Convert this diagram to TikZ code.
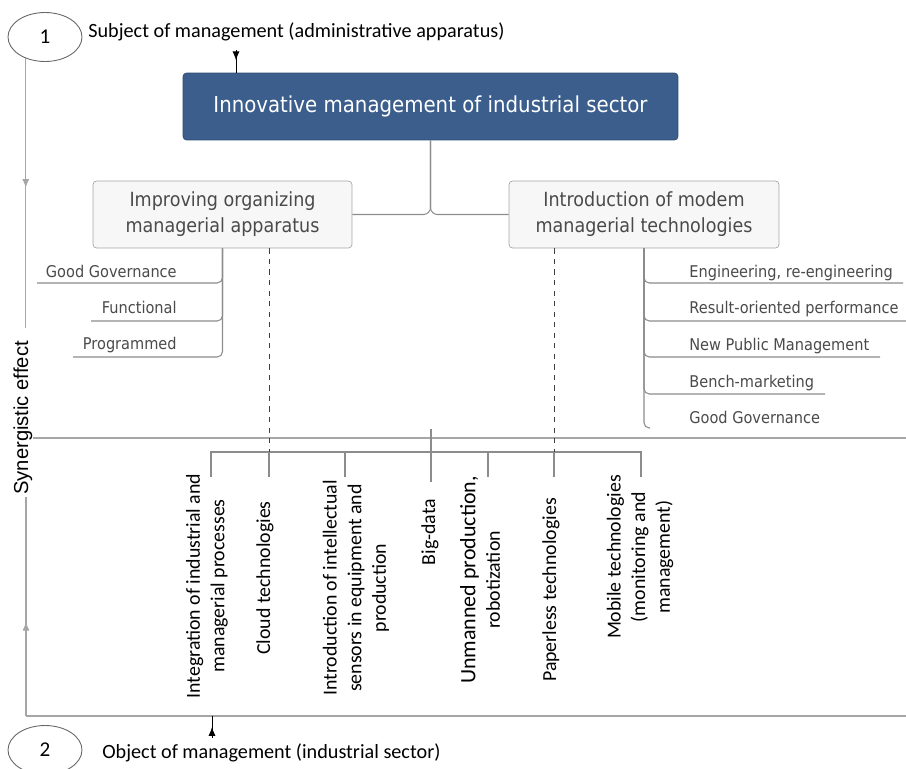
\documentclass[tikz,border=0pt]{standalone}
\usepackage{fontspec}
\setmainfont{Carlito}
\newfontfamily\tahoma[FakeStretch=0.9]{DejaVu Sans}
\newfontfamily\arial{Liberation Sans}
\usetikzlibrary{calc,shapes.geometric,arrows.meta,decorations.markings}

\definecolor{headblue}{HTML}{3B5E8D}
\definecolor{boxfill}{HTML}{F7F7F7}
\definecolor{boxtext}{HTML}{4A4A4A}

\tikzset{
	numoval/.style={ellipse, draw=black!60, fill=white, line width=0.5pt, minimum width=1.48cm, minimum height=0.98cm, inner sep=0pt, font=\fontsize{12}{14}\selectfont},
	headbox/.style={draw=headblue!80!black, fill=headblue, rounded corners=2pt, minimum width=9.9cm, minimum height=1.34cm, text=white, font=\tahoma\fontsize{12.5}{14}\selectfont},
	subbox/.style={draw=black!35, fill=boxfill, rounded corners=2pt, minimum height=1.34cm, align=center, text=boxtext, font=\tahoma\fontsize{11.1}{14.7}\selectfont},
	itemtext/.style={inner sep=0pt, text=boxtext, font=\tahoma\fontsize{9.2}{10}\selectfont},
	techtext/.style={rotate=90, inner sep=0pt, align=center, font=\fontsize{11.3}{14}\selectfont},
	treeline/.style={draw=black!45, line width=0.6pt},
	axisline/.style={draw=black!35, line width=0.6pt},
	guideline/.style={draw=black!75, line width=0.5pt, dashed},
	midarrow/.style={postaction={decorate}, decoration={markings, mark=at position #1 with {\arrow{Latex[length=5pt,width=4pt]}}}},
}

\begin{document}
\begin{tikzpicture}[x=0.02cm, y=-0.02cm]
	%%%%% START %%%%%
	\useasboundingbox (0, 0) rectangle (906, 768);

	% ovals and captions
	\node[numoval] (one) at (45, 37) {1};
	\node[numoval] (two) at (45, 750) {2};
	\node[anchor=base west, inner sep=0pt, font=\fontsize{11.5}{13}\selectfont] (subj) at (88, 37) {Subject of management (administrative apparatus)};
	\node[anchor=base west, inner sep=0pt, font=\fontsize{11.5}{13}\selectfont] (obj) at (102, 758) {Object of management (industrial sector)};

	% synergy axis
	\node[rotate=90, inner sep=0pt, font=\arial\fontsize{11.5}{13}\selectfont] (syn) at (23, 418) {Synergistic effect};
	\coordinate (synTop) at (26, 328);
	\coordinate (synBot) at (26, 497);
	\coordinate (midL) at (33, 438);
	\coordinate (midR) at (906, 438);
	\coordinate (baseL) at (26, 716);
	\coordinate (baseR) at (906, 716);
	\draw[axisline, midarrow=0.48] (one.228) -- (one.228 |- synTop);
	\draw[axisline, midarrow=0.43] (baseL) -- (synBot);
	\draw[axisline] (midL) -- (midR);
	\draw[axisline] (baseL) -- (baseR);

	% top of the tree
	\node[headbox] (main) at (430.5, 106.5) {Innovative management of industrial sector};
	\node[subbox, minimum width=5.18cm] (improve) at (222.5, 214.5) {Improving organizing\\managerial apparatus};
	\node[subbox, minimum width=5.4cm] (modern) at (644, 214.5) {Introduction of modem\\managerial technologies};

	\coordinate (subjFoot) at (236, 50);
	\draw[line width=0.5pt, midarrow=0.45] (subjFoot) -- (subjFoot |- main.north);
	\coordinate (objHead) at (212, 738);
	\draw[line width=0.5pt, midarrow=0.5] (objHead) -- (objHead |- baseL);

	\draw[treeline, rounded corners=4pt] (main.south) |- (improve.east);
	\draw[treeline, rounded corners=4pt] (main.south) |- (modern.west);

	% left list
	\node[itemtext, anchor=base east] (gg1) at (177, 277) {Good Governance};
	\node[itemtext, anchor=base east] (func) at (177, 313) {Functional};
	\node[itemtext, anchor=base east] (prog) at (177, 349) {Programmed};
	\coordinate (gg1L) at (37, 283);
	\coordinate (funcL) at (91, 321);
	\coordinate (progL) at (73, 357);
	\draw[treeline, rounded corners=3pt] (improve.south) |- (progL);
	\draw[treeline, rounded corners=3pt] (improve.south) |- (funcL);
	\draw[treeline, rounded corners=3pt] (improve.south) |- (gg1L);

	% right list
	\node[itemtext, anchor=base west] (eng) at (689, 277) {Engineering, re-engineering};
	\node[itemtext, anchor=base west] (res) at (689, 313) {Result-oriented performance};
	\node[itemtext, anchor=base west] (npm) at (689, 350) {New Public Management};
	\node[itemtext, anchor=base west] (bench) at (689, 387) {Bench-marketing};
	\node[itemtext, anchor=base west] (gg2) at (689, 423) {Good Governance};
	\coordinate (engR) at (903, 283);
	\coordinate (resR) at (906, 321);
	\coordinate (npmR) at (880, 357);
	\coordinate (benchR) at (825, 394);
	\coordinate (gg2R) at (650, 428);
	\draw[treeline, rounded corners=3pt] (modern.south) |- (gg2R);
	\draw[treeline, rounded corners=3pt] (modern.south) |- (benchR);
	\draw[treeline, rounded corners=3pt] (modern.south) |- (npmR);
	\draw[treeline, rounded corners=3pt] (modern.south) |- (resR);
	\draw[treeline, rounded corners=3pt] (modern.south) |- (engR);

	% technologies
	\node[techtext] (integ) at (207, 586) {Integration of industrial and\\managerial processes};
	\node[techtext] (cloud) at (265, 578) {Cloud technologies};
	\node[techtext] (sensors) at (356, 588) {Introduction of intellectual\\sensors in equipment and\\production};
	\node[techtext] (bigdata) at (430, 532) {Big-data};
	\node[techtext] (unmanned) at (480, 580) {\fontsize{12.5}{14.5}\selectfont Unmanned production,\\\fontsize{11.3}{14}\selectfont robotization};
	\node[techtext] (paperless) at (551, 590) {Paperless technologies};
	\node[techtext] (mobile) at (640, 557) {Mobile technologies\\(monitoring and\\management)};

	\coordinate (brL) at (211, 452);
	\coordinate (brR) at (641, 452);
	\coordinate (tInteg) at (211, 477);
	\coordinate (tCloud) at (269, 477);
	\coordinate (tSensors) at (345, 477);
	\coordinate (tBigTop) at (431, 429);
	\coordinate (tBig) at (431, 482);
	\coordinate (tUnmanned) at (488, 477);
	\coordinate (tPaper) at (554, 477);
	\coordinate (tMobile) at (641, 477);
	\draw[treeline] (tInteg) -- (brL) -- (brR) -- (tMobile);
	\draw[treeline] (tCloud |- brL) -- (tCloud);
	\draw[treeline] (tSensors |- brL) -- (tSensors);
	\draw[treeline] (tBigTop) -- (tBig);
	\draw[treeline] (tUnmanned |- brL) -- (tUnmanned);
	\draw[treeline] (tPaper |- brL) -- (tPaper);

	\draw[guideline] (improve.south -| tCloud) -- (tCloud |- brL);
	\draw[guideline] (modern.south -| tPaper) -- (tPaper |- brL);

	%%%%% END %%%%%
\end{tikzpicture}
\end{document}
